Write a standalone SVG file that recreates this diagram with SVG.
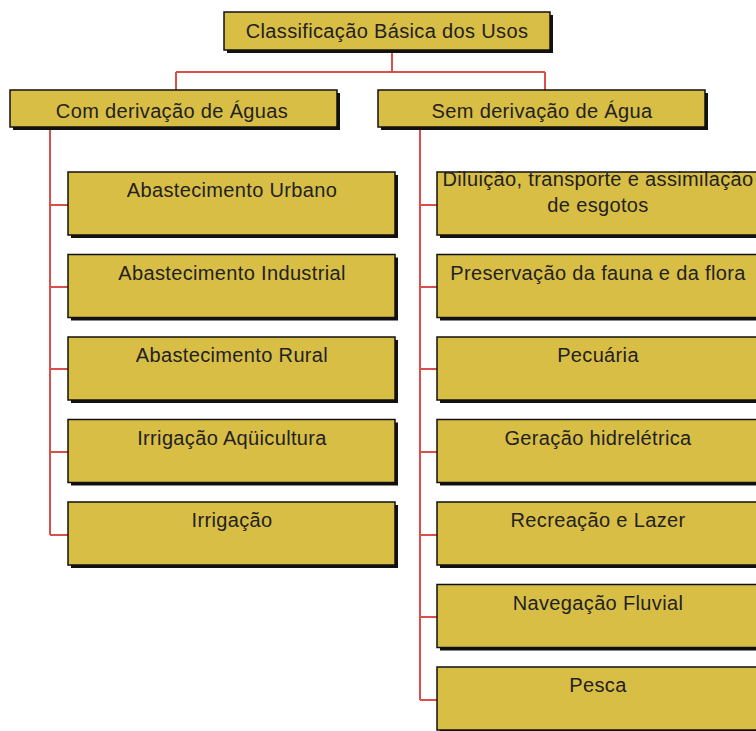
<svg xmlns="http://www.w3.org/2000/svg" width="756" height="731" viewBox="0 0 756 731">
<defs>
<style>
.box{fill:#D9BE45;stroke:#111;stroke-width:1.5}
.sh{fill:#111}
.t{font-family:"Liberation Sans",Arial,sans-serif;font-size:20px;fill:#222;text-anchor:middle;letter-spacing:0.35px}
.c{stroke:#D9504A;stroke-width:2;fill:none}
</style>
</defs>
<rect width="756" height="731" fill="#fff"/>
<g id="connectors">
<path class="c" d="M392 51V72M176 72H545M176 72V90M545 72V90"/>
<path class="c" d="M50 128V535M50 205H68M50 287H68M50 369H68M50 452H68M50 535H68"/>
<path class="c" d="M420 128V700M420 205H437M420 287H437M420 369H437M420 452H437M420 535H437M420 617H437M420 700H437"/>
</g>
<g id="root"><rect class="sh" x="227" y="15" width="326" height="38"/><rect class="box" x="224" y="12" width="326" height="38"/><text class="t" x="387" y="38">Classificação Básica dos Usos</text></g>
<g id="com"><rect class="sh" x="13" y="93" width="327" height="37"/><rect class="box" x="10" y="90" width="327" height="37"/><text class="t" x="172" y="118">Com derivação de Águas</text></g>
<g id="sem"><rect class="sh" x="381" y="93" width="327" height="37"/><rect class="box" x="378" y="90" width="327" height="37"/><text class="t" x="542" y="118">Sem derivação de Água</text></g>
<g id="l1"><rect class="sh" x="71" y="175" width="327" height="63"/><rect class="box" x="68" y="172" width="327" height="63"/><text class="t" x="232" y="197">Abastecimento Urbano</text></g>
<g id="l2"><rect class="sh" x="71" y="257.5" width="327" height="63"/><rect class="box" x="68" y="254.5" width="327" height="63"/><text class="t" x="232" y="279.5">Abastecimento Industrial</text></g>
<g id="l3"><rect class="sh" x="71" y="340" width="327" height="63"/><rect class="box" x="68" y="337" width="327" height="63"/><text class="t" x="232" y="362">Abastecimento Rural</text></g>
<g id="l4"><rect class="sh" x="71" y="422.5" width="327" height="63"/><rect class="box" x="68" y="419.5" width="327" height="63"/><text class="t" x="232" y="444.5">Irrigação Aqüicultura</text></g>
<g id="l5"><rect class="sh" x="71" y="505" width="327" height="63"/><rect class="box" x="68" y="502" width="327" height="63"/><text class="t" x="232" y="527">Irrigação</text></g>
<g id="r1"><rect class="sh" x="440" y="175" width="327" height="63"/><rect class="box" x="437" y="172" width="327" height="63"/><text class="t" x="598" y="186">Diluição, transporte e assimilação</text><text class="t" x="598" y="212">de esgotos</text></g>
<g id="r2"><rect class="sh" x="440" y="257.5" width="327" height="63"/><rect class="box" x="437" y="254.5" width="327" height="63"/><text class="t" x="598" y="279.5">Preservação da fauna e da flora</text></g>
<g id="r3"><rect class="sh" x="440" y="340" width="327" height="63"/><rect class="box" x="437" y="337" width="327" height="63"/><text class="t" x="598" y="362">Pecuária</text></g>
<g id="r4"><rect class="sh" x="440" y="422.5" width="327" height="63"/><rect class="box" x="437" y="419.5" width="327" height="63"/><text class="t" x="598" y="444.5">Geração hidrelétrica</text></g>
<g id="r5"><rect class="sh" x="440" y="505" width="327" height="63"/><rect class="box" x="437" y="502" width="327" height="63"/><text class="t" x="598" y="527">Recreação e Lazer</text></g>
<g id="r6"><rect class="sh" x="440" y="587.5" width="327" height="63"/><rect class="box" x="437" y="584.5" width="327" height="63"/><text class="t" x="598" y="609.5">Navegação Fluvial</text></g>
<g id="r7"><rect class="sh" x="440" y="670" width="327" height="63"/><rect class="box" x="437" y="667" width="327" height="63"/><text class="t" x="598" y="692">Pesca</text></g>
</svg>
